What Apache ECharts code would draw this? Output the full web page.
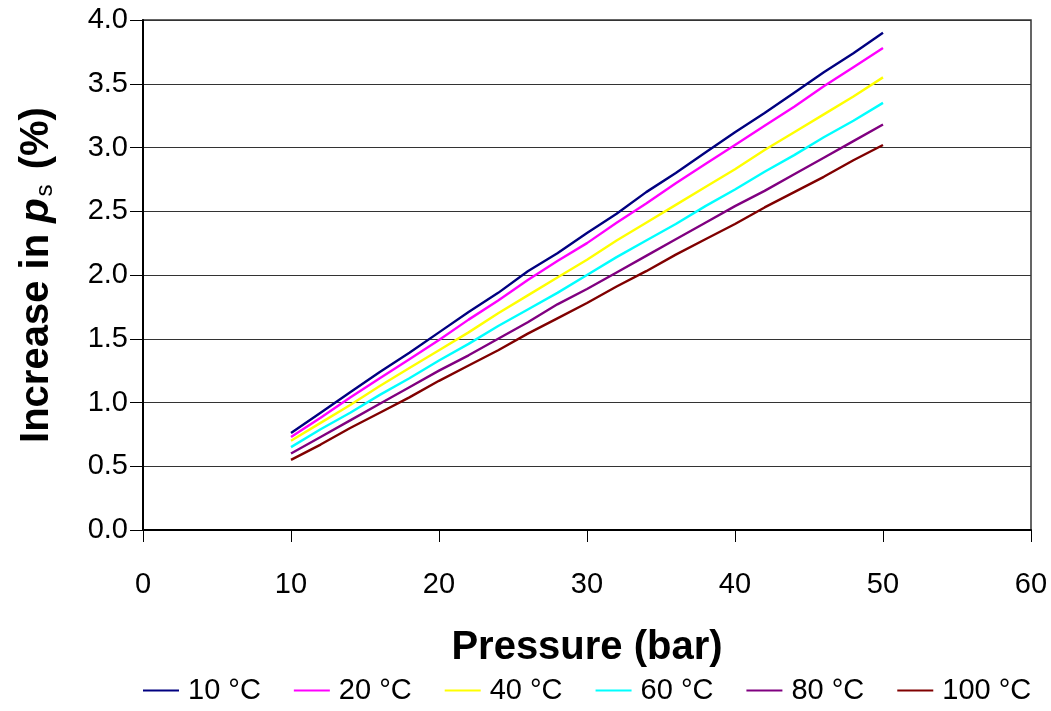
<!DOCTYPE html>
<html>
<head>
<meta charset="utf-8">
<title>Increase in ps vs pressure</title>
<script src="https://cdn.jsdelivr.net/npm/echarts@6/dist/echarts.min.js"></script>
<style>
  html, body { margin: 0; padding: 0; background: #fff; }
  #chart { width: 1051px; height: 711px; }
</style>
</head>
<body>
<div id="chart"></div>
<script>
// Pressure points (bar)
const pressure = [10, 12, 14, 16, 18, 20, 22, 24, 26, 28, 30, 32, 34, 36, 38, 40, 42, 44, 46, 48, 50];

// Increase in ps (%) for each temperature
const t10  = [0.76, 0.92, 1.08, 1.24, 1.39, 1.55, 1.71, 1.86, 2.03, 2.17, 2.33, 2.48, 2.65, 2.80, 2.96, 3.12, 3.27, 3.43, 3.59, 3.74, 3.90];
const t20  = [0.73, 0.88, 1.04, 1.19, 1.34, 1.49, 1.65, 1.80, 1.96, 2.11, 2.25, 2.41, 2.56, 2.72, 2.87, 3.02, 3.17, 3.32, 3.48, 3.63, 3.78];
const t40  = [0.70, 0.84, 0.98, 1.13, 1.27, 1.41, 1.55, 1.70, 1.84, 1.98, 2.12, 2.27, 2.41, 2.55, 2.69, 2.83, 2.98, 3.12, 3.26, 3.40, 3.55];
const t60  = [0.65, 0.79, 0.92, 1.06, 1.19, 1.33, 1.46, 1.60, 1.73, 1.86, 2.00, 2.14, 2.27, 2.40, 2.54, 2.67, 2.81, 2.94, 3.08, 3.21, 3.35];
const t80  = [0.60, 0.73, 0.86, 0.99, 1.12, 1.25, 1.37, 1.50, 1.63, 1.77, 1.89, 2.02, 2.15, 2.28, 2.41, 2.54, 2.66, 2.79, 2.92, 3.05, 3.18];
const t100 = [0.55, 0.67, 0.80, 0.92, 1.04, 1.17, 1.29, 1.41, 1.54, 1.66, 1.78, 1.91, 2.03, 2.16, 2.28, 2.40, 2.53, 2.65, 2.77, 2.90, 3.02];

const seriesNames = ['10 °C', '20 °C', '40 °C', '60 °C', '80 °C', '100 °C'];
const seriesValues = [t10, t20, t40, t60, t80, t100];
const seriesColors = ['#000080', '#FF00FF', '#FFFF00', '#00FFFF', '#800080', '#800000'];

const FONT = '"Liberation Sans", Arial, sans-serif';

const chart = echarts.init(document.getElementById('chart'), null, { renderer: 'canvas' });

const series = seriesNames.map((name, i) => ({
  name: name,
  type: 'line',
  data: pressure.map((p, j) => [p, seriesValues[i][j]]),
  symbol: 'none',
  lineStyle: { color: seriesColors[i], width: 2.4 },
  itemStyle: { color: seriesColors[i] },
  animation: false
}));

chart.setOption({
  backgroundColor: '#ffffff',
  animation: false,
  grid: {
    left: 143, right: 20, top: 20, bottom: 181,
    show: true, borderColor: '#333', borderWidth: 1.5, backgroundColor: 'transparent'
  },
  legend: {
    data: seriesNames,
    left: 143,
    bottom: 6,
    padding: 0,
    icon: 'rect',
    itemWidth: 36,
    itemHeight: 2,
    itemGap: 33,
    textStyle: { fontFamily: FONT, fontSize: 29, color: '#000', padding: [0, 0, 0, 4] }
  },
  xAxis: {
    type: 'value',
    min: 0, max: 60, interval: 10,
    name: 'Pressure (bar)',
    nameLocation: 'middle',
    nameGap: 98,
    nameTextStyle: { fontFamily: FONT, fontSize: 40, fontWeight: 'bold', color: '#000' },
    axisLine: { show: true, onZero: false, lineStyle: { color: '#000', width: 2 } },
    axisTick: { show: true, inside: false, length: 12, lineStyle: { color: '#000', width: 1 } },
    axisLabel: { fontFamily: FONT, fontSize: 29, color: '#000', margin: 40 },
    splitLine: { show: false }
  },
  yAxis: {
    type: 'value',
    min: 0, max: 4, interval: 0.5,
    name: 'Increase in {p|p}{s|s} (%)',
    nameLocation: 'middle',
    nameGap: 86,
    nameTextStyle: {
      fontFamily: FONT, fontSize: 40, fontWeight: 'bold', color: '#000',
      rich: {
        p: { fontFamily: FONT, fontSize: 40, fontWeight: 'bold', fontStyle: 'italic', color: '#000' },
        s: { fontFamily: FONT, fontSize: 24, fontWeight: 'normal', color: '#000', verticalAlign: 'bottom', padding: [0, 4, 0, 2] }
      }
    },
    axisLine: { show: true, onZero: false, lineStyle: { color: '#000', width: 2 } },
    axisTick: { show: true, inside: false, length: 13, lineStyle: { color: '#000', width: 1 } },
    axisLabel: { fontFamily: FONT, fontSize: 29, color: '#000', margin: 15, formatter: v => v.toFixed(1) },
    splitLine: { show: true, lineStyle: { color: '#333', width: 1 } }
  },
  series: series
});
</script>
</body>
</html>
